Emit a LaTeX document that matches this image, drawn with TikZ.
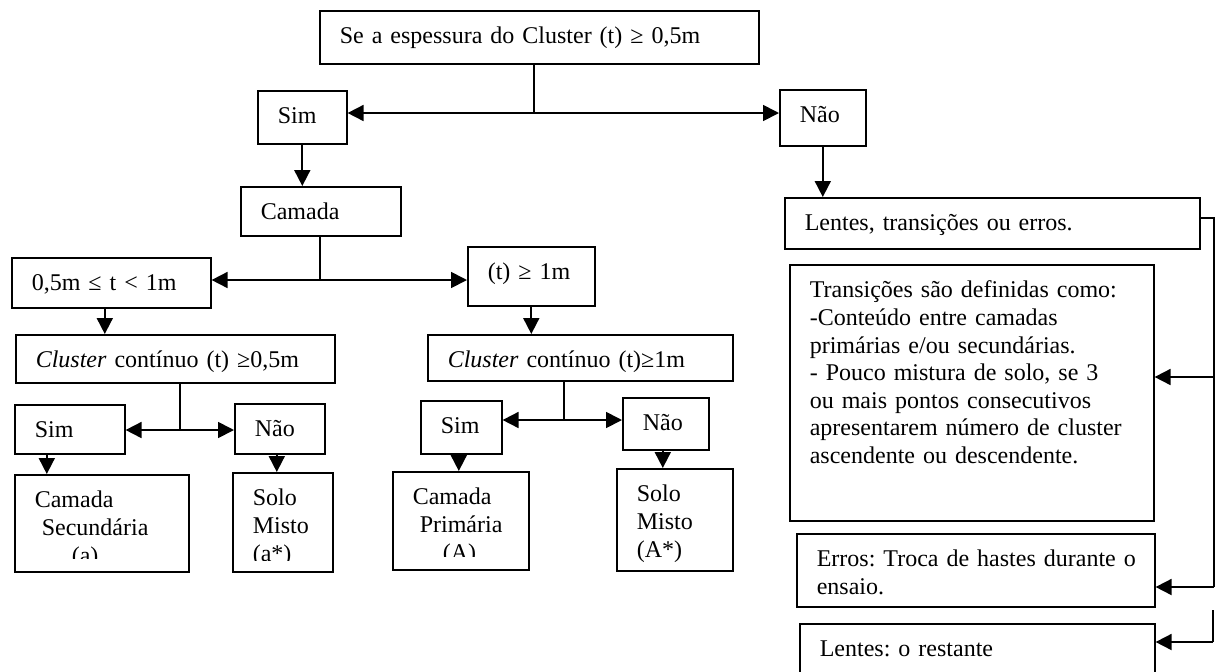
\documentclass[tikz,border=0pt]{standalone}
\usepackage{fontspec}
\setmainfont{Liberation Serif}
\usepackage{tikz}
\usetikzlibrary{arrows.meta}
\tikzset{
  box/.style={draw=black,line width=0.8pt,anchor=north west,align=left,
    inner xsep=10pt,inner ysep=0pt,text height=16.5pt,
    font=\fontsize{12}{13.8}\selectfont\frenchspacing},
  conn/.style={draw=black,line width=0.9pt},
  arr/.style={conn,-{Triangle[length=8pt,width=8pt]}},
}
\begin{document}
\begin{tikzpicture}[x=0.5pt,y=-0.5pt]
  \useasboundingbox (0,0) rectangle (1216,671);
  \node[box,text width=199.5pt,text depth=10pt] (top) at (319,10) {Se a espessura do Cluster (t) ≥ 0,5m};
  \node[box,text width=24.5pt,text depth=10pt] (yes1) at (257,90) {Sim};
  \node[box,text width=23pt,text depth=11.5pt] (no1) at (779,89) {Não};
  \node[box,text width=60pt,text depth=8pt] (layer) at (240,186) {Camada};
  \node[box,text width=79.5pt,text depth=8.5pt] (thin) at (11,257) {0,5m ≤ t < 1m};
  \node[box,text width=43.5pt,text depth=13pt] (thick) at (467,246) {(t) ≥ 1m};
  \node[box,text width=139.5pt,text depth=7.5pt] (cont1) at (15,334) {\textit{Cluster} contínuo (t) ≥0,5m};
  \node[box,text width=132.5pt,text depth=6.5pt] (cont2) at (427,334) {\textit{Cluster} contínuo (t)≥1m};
  \node[box,text width=35pt,text depth=8pt] (yes2) at (14,404) {Sim};
  \node[box,text width=25pt,text depth=8.5pt] (no2) at (234,403) {Não};
  \node[box,text width=67pt,text depth=32pt] (sec) at (14,474) {Camada\\\hspace*{3.5pt}Secundária\\\hspace*{18.5pt}(a)};
  \node[box,text width=30pt,text depth=33pt] (mix1) at (232,472) {Solo\\Misto\\(a*)};
  \node[box,text width=20.5pt,text depth=10pt] (yes3) at (420,400) {Sim};
  \node[box,text width=23pt,text depth=9.5pt] (no3) at (622,397) {Não};
  \node[box,text width=48pt,text depth=32.5pt] (prim) at (392,471) {Camada\\\hspace*{3.5pt}Primária\\\hspace*{15pt}(A)};
  \node[box,text width=38pt,text depth=34.5pt] (mix2) at (616,468) {Solo\\Misto\\(A*)};
  \node[box,text width=187.5pt,text depth=9pt] (lto) at (784,197) {Lentes, transições ou erros.};
  \node[box,text width=162pt,text depth=111.5pt] (trans) at (789,264) {Transições são definidas como:\\-Conteúdo entre camadas\\primárias e/ou secundárias.\\- Pouco mistura de solo, se 3\\ou mais pontos consecutivos\\apresentarem número de cluster\\ascendente ou descendente.};
  \node[box,text width=159pt,text depth=20pt] (err) at (796,533) {\mbox{Erros: Troca de hastes durante o}\\ensaio.};
  \node[box,text width=157.5pt,text depth=9.5pt] (lens) at (799,623) {Lentes: o restante};
  \fill[white] (16,559) rectangle (186,569.5);
  \fill[white] (234,561) rectangle (330,569.5);
  \fill[white] (394,557) rectangle (526,567.5);
  \coordinate (j1) at (534,113);
  \coordinate (j2) at (320,280);
  \coordinate (j3) at (180,430);
  \coordinate (j4) at (564,420);
  \coordinate (r0) at (1214,218);
  \coordinate (bt) at (1214,377);
  \coordinate (be) at (1214,587);
  \coordinate (r3) at (1213,610);
  \coordinate (bl) at (1213,642);
  \draw[conn] (j1 |- top.south) -- (j1);
  \draw[arr] (j1) -- (j1 -| yes1.east);
  \draw[arr] (j1) -- (j1 -| no1.west);
  \draw[arr] (yes1.south) -- (yes1.south |- layer.north);
  \draw[arr] (no1.south) -- (no1.south |- lto.north);
  \draw[conn] (j2 |- layer.south) -- (j2);
  \draw[arr] (j2) -- (j2 -| thin.east);
  \draw[arr] (j2) -- (j2 -| thick.west);
  \draw[arr] ([xshift=-3.25pt]thin.south) -- ([xshift=-3.25pt]thin.south |- cont1.north);
  \draw[arr] (thick.south) -- (thick.south |- cont2.north);
  \draw[conn] (j3 |- cont1.south) -- (j3);
  \draw[arr] (j3) -- (j3 -| yes2.east);
  \draw[arr] (j3) -- (j3 -| no2.west);
  \draw[conn] (j4 |- cont2.south) -- (j4);
  \draw[arr] (j4) -- (j4 -| yes3.east);
  \draw[arr] (j4) -- (j4 -| no3.west);
  \draw[arr] ([xshift=-11.5pt]yes2.south) -- ([xshift=-11.5pt]yes2.south |- sec.north);
  \draw[arr] ([xshift=-1.5pt]no2.south) -- ([xshift=-1.5pt]no2.south |- mix1.north);
  \draw[arr] ([xshift=-1.25pt]yes3.south) -- ([xshift=-1.25pt]yes3.south |- prim.north);
  \draw[arr] ([xshift=-1.5pt]no3.south) -- ([xshift=-1.5pt]no3.south |- mix2.north);
  \draw[conn] (lto.east |- r0) -- (r0) -- (be);
  \draw[arr] (bt) -- (bt -| trans.east);
  \draw[arr] (be) -- (be -| err.east);
  \draw[conn] (r3) -- (bl);
  \draw[arr] (bl) -- (bl -| lens.east);
\end{tikzpicture}
\end{document}
